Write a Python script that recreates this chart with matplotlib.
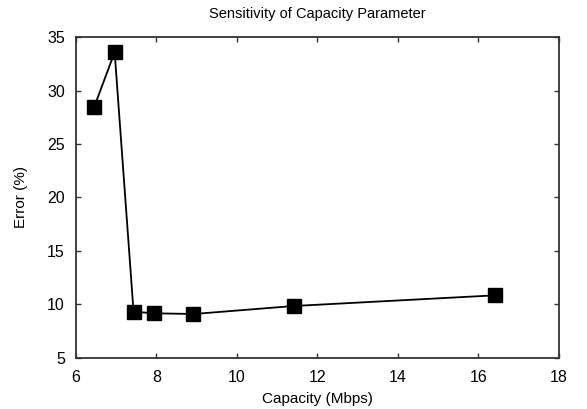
import matplotlib
matplotlib.use("Agg")
import matplotlib.pyplot as plt

capacity = [6.45, 6.96, 7.43, 7.93, 8.92, 11.41, 16.42]
error = [28.45, 33.6, 9.31, 9.16, 9.09, 9.84, 10.84]
xticks = [6, 8, 10, 12, 14, 16, 18]
yticks = [5, 10, 15, 20, 25, 30, 35]

plt.rcParams['font.family'] = ['Liberation Sans', 'DejaVu Sans']

fig = plt.figure(figsize=(5.87, 4.09), dpi=100)
ax = fig.add_axes([0.1295, 0.1254, 0.8225, 0.7836])
ax.plot(capacity, error, color='black', linewidth=1.3, marker='s', markersize=9.5,
        markerfacecolor='black', markeredgecolor='black')
ax.set_xlim(6, 18)
ax.set_ylim(5, 35)
ax.set_xticks(xticks)
ax.set_yticks(yticks)
ax.tick_params(direction='in', top=True, right=True, length=3.5, width=1,
               color='#333333', labelsize=11.5)
ax.tick_params(axis='x', pad=9)
ax.tick_params(axis='y', pad=8)
for s in ax.spines.values():
    s.set_linewidth(1.3)
    s.set_color('#333333')
ax.set_xlabel('Capacity (Mbps)', fontsize=11, labelpad=5)
ax.set_ylabel('Error (%)', fontsize=11, labelpad=14)
ax.set_title('Sensitivity of Capacity Parameter', fontsize=10.5, pad=14)
fig.savefig('out.png', dpi=100)
